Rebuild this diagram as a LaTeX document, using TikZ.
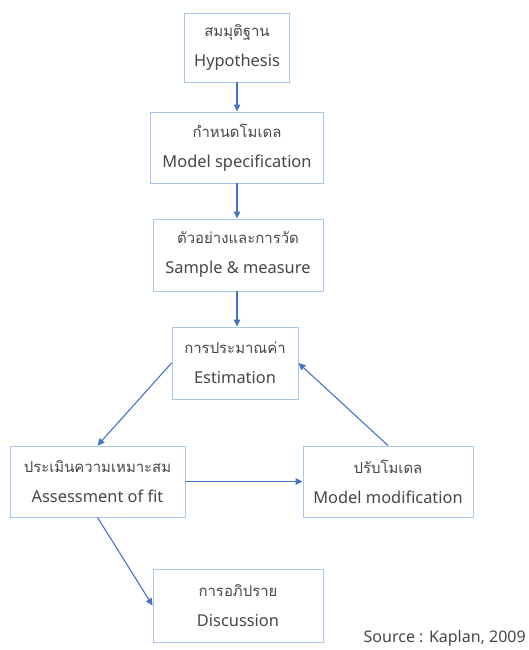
\documentclass[tikz,border=0pt]{standalone}
\usepackage{fontspec}
\setmainfont{Noto Sans}
\newfontfamily\thaifont[Script=Thai,Scale=0.91]{Loma}
\usetikzlibrary{arrows.meta}
\definecolor{boxline}{HTML}{A9C8EA}
\definecolor{arrowblue}{HTML}{4472C4}
\definecolor{txt}{HTML}{474747}
\tikzset{
  stagebox/.style={draw=boxline, line width=0.9pt, fill=white, text=txt,
    align=center, inner sep=0pt, font=\fontsize{16.4}{30}\selectfont},
  flow/.style={draw=arrowblue, line width=1.1pt,
    -{Triangle[length=7pt,width=6.5pt]}},
}
\newcommand{\stage}[2]{{\thaifont #1}\\#2}
\begin{document}
\begin{tikzpicture}[x=1pt,y=-1pt]
  \useasboundingbox (0,0) rectangle (528,650);
  \node[stagebox, minimum width=105pt, minimum height=69pt] (hyp) at (237,47.5)
    {\stage{สมมุติฐาน}{Hypothesis}};
  \node[stagebox, minimum width=173pt, minimum height=71pt] (spec) at (237,147.5)
    {\stage{กำหนดโมเดล}{Model specification}};
  \node[stagebox, minimum width=170pt, minimum height=72pt] (samp) at (238,255)
    {\stage{ตัวอย่างและการวัด}{Sample \& measure}};
  \node[stagebox, minimum width=126pt, minimum height=72pt] (est) at (235,363)
    {\stage{การประมาณค่า}{Estimation}};
  \node[stagebox, minimum width=175pt, minimum height=71pt] (fit) at (97.5,481.5)
    {\stage{ประเมินความเหมาะสม}{Assessment of fit}};
  \node[stagebox, minimum width=170pt, minimum height=71pt] (mod) at (388,481.5)
    {\stage{ปรับโมเดล}{Model modification}};
  \node[stagebox, minimum width=170pt, minimum height=73pt] (disc) at (238,605.5)
    {\stage{การอภิปราย}{Discussion}};
  \node[text=txt, anchor=east, font=\fontsize{16}{18}\selectfont, inner sep=0pt]
    (src) at (526,638) {Source : Kaplan, 2009};

  \draw[flow] (hyp.south -| spec.north) -- (spec.north);
  \draw[flow] (spec.south) -- (spec.south |- samp.north);
  \draw[flow] (spec.south |- samp.south) -- (spec.south |- est.north);
  \draw[flow] (est.west) -- (fit.north);
  \draw[flow] (fit.east) -- (mod.west);
  \draw[flow] (mod.north) -- (est.east);
  \draw[flow] (fit.south) -- (disc.west);
\end{tikzpicture}
\end{document}
